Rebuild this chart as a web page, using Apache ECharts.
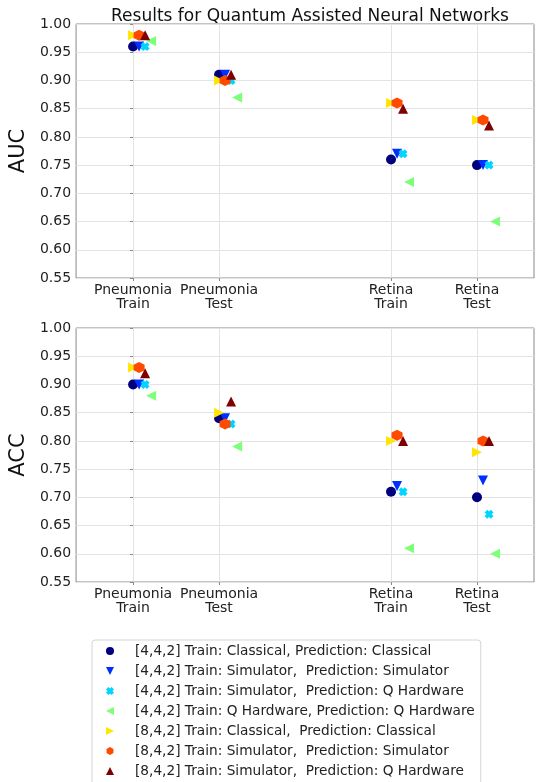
<!DOCTYPE html>
<html>
<head>
<meta charset="utf-8">
<script src="https://cdn.jsdelivr.net/npm/echarts@6/dist/echarts.min.js"></script>
<style>
  html, body { margin: 0; padding: 0; background: #fff; }
  #chart { width: 537px; height: 782px; }
</style>
</head>
<body>
<div id="chart"></div>
<script>
// categories (x position on the axis and label)
const catPos = [0, 1, 3, 4];
const catLabels = ['Pneumonia\nTrain', 'Pneumonia\nTest', 'Retina\nTrain', 'Retina\nTest'];

const seriesNames = [
  '[4,4,2] Train: Classical, Prediction: Classical',
  '[4,4,2] Train: Simulator,  Prediction: Simulator',
  '[4,4,2] Train: Simulator,  Prediction: Q Hardware',
  '[4,4,2] Train: Q Hardware, Prediction: Q Hardware',
  '[8,4,2] Train: Classical,  Prediction: Classical',
  '[8,4,2] Train: Simulator,  Prediction: Simulator',
  '[8,4,2] Train: Simulator,  Prediction: Q Hardware'
];

// AUC values per series (Pneumonia Train, Pneumonia Test, Retina Train, Retina Test)
const aucClassical442 = [0.96, 0.91, 0.76, 0.75];
const aucSimSim442    = [0.96, 0.91, 0.77, 0.75];
const aucSimHw442     = [0.96, 0.90, 0.77, 0.75];
const aucHwHw442      = [0.97, 0.87, 0.72, 0.65];
const aucClassical842 = [0.98, 0.90, 0.86, 0.83];
const aucSimSim842    = [0.98, 0.90, 0.86, 0.83];
const aucSimHw842     = [0.98, 0.91, 0.85, 0.82];

// ACC values per series
const accClassical442 = [0.90, 0.84, 0.71, 0.70];
const accSimSim442    = [0.90, 0.84, 0.72, 0.73];
const accSimHw442     = [0.90, 0.83, 0.71, 0.67];
const accHwHw442      = [0.88, 0.79, 0.61, 0.60];
const accClassical842 = [0.93, 0.85, 0.80, 0.78];
const accSimSim842    = [0.93, 0.83, 0.81, 0.80];
const accSimHw842     = [0.92, 0.87, 0.80, 0.80];

const aucSeries = [aucClassical442, aucSimSim442, aucSimHw442, aucHwHw442, aucClassical842, aucSimSim842, aucSimHw842];
const accSeries = [accClassical442, accSimSim442, accSimHw442, accHwHw442, accClassical842, accSimSim842, accSimHw842];

// jitter of each series around the category
const offsets = [0, 0.07, 0.14, 0.21, 0, 0.07, 0.14];

const colors = ['#00007f', '#0030ff', '#00d4ff', '#7dff7a', '#ffe600', '#ff4a00', '#7f0000'];

// marker shapes (matplotlib o v X < > h ^)
const TRI_UP = 'path://M5,0 L10,10 L0,10 Z';
const TRI_DOWN = 'path://M0,0 L10,0 L5,10 Z';
const TRI_LEFT = 'path://M0,5 L10,0 L10,10 Z';
const TRI_RIGHT = 'path://M10,5 L0,0 L0,10 Z';
const X_PATH = 'path://M0,3 L3,0 L5,2 L7,0 L10,3 L8,5 L10,7 L7,10 L5,8 L3,10 L0,7 L2,5 Z';
const HEX_PATH = 'path://M5,0 L9.33,2.5 L9.33,7.5 L5,10 L0.67,7.5 L0.67,2.5 Z';
const markers = [
  { symbol: 'circle', size: 10 },
  { symbol: TRI_DOWN, size: 10 },
  { symbol: X_PATH, size: 9 },
  { symbol: TRI_LEFT, size: 10 },
  { symbol: TRI_RIGHT, size: 10 },
  { symbol: HEX_PATH, size: 11 },
  { symbol: TRI_UP, size: 10 }
];

const FONT = 'DejaVu Sans';

const chart = echarts.init(document.getElementById('chart'), null, { renderer: 'canvas' });

const makeX = (gridIndex) => ({
  type: 'value',
  gridIndex,
  min: -0.663,
  max: 4.663,
  axisLine: { show: false },
  axisTick: { show: true, customValues: catPos, length: 3, lineStyle: { color: '#888' } },
  axisLabel: {
    customValues: catPos,
    color: '#222',
    fontFamily: FONT,
    fontSize: 14,
    lineHeight: 14,
    margin: 5,
    formatter: (v) => {
      const i = catPos.indexOf(Math.round(v));
      return i >= 0 ? catLabels[i] : '';
    }
  },
  splitLine: { show: true, lineStyle: { color: '#e3e3e3', width: 1 } }
});

const makeY = (gridIndex, name) => ({
  type: 'value',
  gridIndex,
  min: 0.55,
  max: 1.0,
  interval: 0.05,
  name,
  nameLocation: 'middle',
  nameGap: 42,
  nameTextStyle: { fontFamily: FONT, fontSize: 21, color: '#111' },
  axisLine: { show: false },
  axisTick: { show: true, length: 3, lineStyle: { color: '#888' } },
  axisLabel: {
    color: '#222',
    fontFamily: FONT,
    fontSize: 14,
    margin: 5,
    formatter: (v) => v.toFixed(2)
  },
  splitLine: { show: true, lineStyle: { color: '#e3e3e3', width: 1 } }
});

const series = [];
[aucSeries, accSeries].forEach((set, g) => {
  set.forEach((vals, s) => {
    series.push({
      name: seriesNames[s],
      type: 'scatter',
      xAxisIndex: g,
      yAxisIndex: g,
      symbol: markers[s].symbol,
      symbolSize: markers[s].size,
      itemStyle: { color: colors[s], opacity: 1 },
      data: vals.map((v, i) => [catPos[i] + offsets[s], v])
    });
  });
});

chart.setOption({
  animation: false,
  backgroundColor: '#fff',
  title: {
    text: 'Results for Quantum Assisted Neural Networks',
    left: 305,
    textAlign: 'center',
    top: 3,
    textStyle: { fontFamily: FONT, fontSize: 17, fontWeight: 'normal', color: '#111' }
  },
  grid: [
    { left: 76, right: 3, top: 24, height: 254, show: true, borderColor: '#888', borderWidth: 1, backgroundColor: 'transparent' },
    { left: 76, right: 3, top: 328, height: 254, show: true, borderColor: '#888', borderWidth: 1, backgroundColor: 'transparent' }
  ],
  xAxis: [makeX(0), makeX(1)],
  yAxis: [makeY(0, 'AUC'), makeY(1, 'ACC')],
  legend: {
    orient: 'vertical',
    left: 92,
    top: 640,
    height: 170,
    padding: [4, 6, 8, 14],
    itemWidth: 8,
    itemHeight: 8,
    itemGap: 6,
    borderColor: '#d5d5d5',
    borderWidth: 1,
    borderRadius: 3,
    backgroundColor: '#fff',
    data: seriesNames.map((name, s) => ({ name, icon: markers[s].symbol })),
    formatter: (name) => '{s|}' + name,
    textStyle: {
      fontFamily: FONT,
      fontSize: 13.7,
      lineHeight: 14,
      color: '#222',
      rich: { s: { width: 16 } }
    }
  },
  series
});
</script>
</body>
</html>
